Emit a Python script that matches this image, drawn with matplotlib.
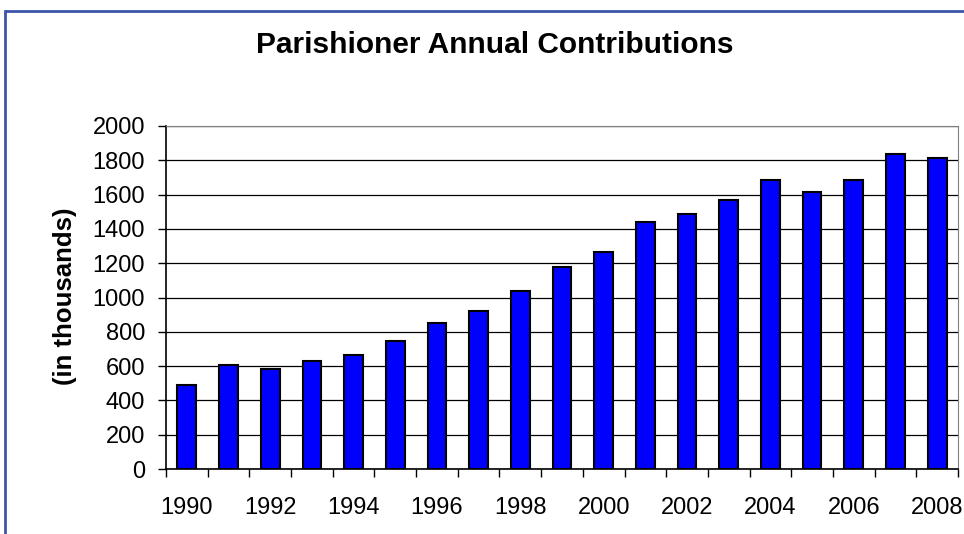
import matplotlib.pyplot as plt
from matplotlib.patches import Rectangle
import numpy as np

years = list(range(1990, 2009))
contributions = [489, 606, 584, 631, 664, 748, 852, 920, 1037, 1175,
                 1266, 1443, 1487, 1571, 1685, 1616, 1685, 1837, 1814]
y_ticks = list(range(0, 2001, 200))

plt.rcParams['font.family'] = ['Liberation Sans', 'DejaVu Sans']

fig = plt.figure(figsize=(9.64, 5.34), dpi=100)
ax = fig.add_axes([166 / 964, 1 - 469 / 534, 792 / 964, 343 / 534])

pos = np.arange(len(years))
ax.bar(pos, contributions, width=0.45, color='#0000ff', edgecolor='black',
       linewidth=1.5, zorder=3)

ax.set_xlim(-0.5, len(years) - 0.5)
ax.set_ylim(0, 2000)
ax.set_yticks(y_ticks)
ax.set_yticklabels([str(v) for v in y_ticks], fontsize=17)
ax.yaxis.grid(True, color='black', linewidth=0.9, zorder=0)

ax.set_xticks(pos[::2])
ax.set_xticklabels([str(y) for y in years[::2]], fontsize=17)
ax.tick_params(axis='x', which='major', length=0, pad=20)
ax.set_xticks(np.arange(-0.5, len(years)), minor=True)
ax.tick_params(axis='x', which='minor', length=6, width=1, color='black')
ax.tick_params(axis='y', length=6, width=1, pad=9)

for side in ['top', 'right']:
    ax.spines[side].set_color('#808080')
for side in ['left', 'bottom']:
    ax.spines[side].set_color('black')
    ax.spines[side].set_linewidth(1.2)

fig.text(65 / 964, 1 - 296.5 / 534, '(in thousands)', rotation=90,
         ha='center', va='center', fontsize=18.5, fontweight='bold')

fig.text(495 / 964, 1 - 53 / 534, 'Parishioner Annual Contributions',
         ha='center', va='baseline', fontsize=21.5, fontweight='bold')

# cropped outer chart border
fig.patches.append(Rectangle((5 / 964, -0.1), 1.2, 1 - 11 / 534 + 0.1,
                             transform=fig.transFigure, fill=False,
                             edgecolor='#3d55a8', linewidth=2))

fig.savefig('out.png', dpi=100)
